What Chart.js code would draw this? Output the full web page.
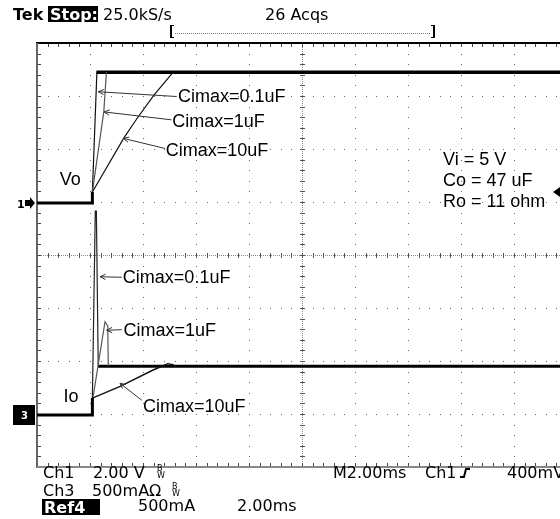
<!DOCTYPE html>
<html>
<head>
<meta charset="utf-8">
<script src="https://cdn.jsdelivr.net/npm/chart.js@4"></script>
<style>
  html, body { margin: 0; padding: 0; background: #fff; overflow: hidden; }
  #wrap { width: 600px; height: 519px; }
</style>
</head>
<body>
<div id="wrap"><canvas id="scope" width="600" height="519"></canvas></div>
<script>

// screen is 10 x 8 divisions, 2.00 ms/div; values below are in divisions
const divsX = 10;
const divsY = 8;

// Vo (Ch1, 2.00 V/div)
const voBase = [[0, 4.98], [1.04, 4.98], [1.045, 5.19]];
const voTop  = [[1.12, 7.45], [10, 7.45]];
const vo01   = [[1.045, 5.19], [1.13, 7.45]];
const vo1    = [[1.045, 5.19], [1.26, 6.70], [1.31, 7.45]];
const vo10   = [[1.045, 5.19], [1.64, 6.21], [1.89, 6.58], [2.21, 7.02], [2.57, 7.45]];

// Io (Ch3 / Ref4, 500 mA/div)
const ioBase = [[0, 0.98], [1.04, 0.98], [1.045, 1.30]];
const ioTop  = [[1.15, 1.90], [10, 1.90]];
const io01   = [[1.045, 1.30], [1.10, 4.83], [1.12, 4.83], [1.155, 1.92]];
const io1    = [[1.06, 1.33], [1.283, 2.74], [1.335, 2.66], [1.345, 1.90]];
const io10   = [[1.045, 1.30], [1.57, 1.52], [2.19, 1.83], [2.38, 1.91], [2.47, 1.95], [2.56, 1.93], [2.62, 1.90]];

const capLabels = ['Cimax=0.1uF', 'Cimax=1uF', 'Cimax=10uF'];
const infoLines = ['Vi = 5 V', 'Co = 47 uF', 'Ro = 11 ohm'];

// leader arrows: tip on trace, tail at text, text anchor (in divisions)
const leaders = [
    { text: capLabels[0], tip: [1.157, 7.08], tail: [2.636, 6.99], at: [2.66, 6.98] },
    { text: capLabels[1], tip: [1.264, 6.70], tail: [2.54, 6.55],  at: [2.55, 6.51] },
    { text: capLabels[2], tip: [1.63, 6.20],  tail: [2.415, 6.01], at: [2.43, 5.96] },
    { text: capLabels[0], tip: [1.19, 3.59],  tail: [1.60, 3.58],  at: [1.62, 3.56] },
    { text: capLabels[1], tip: [1.315, 2.58], tail: [1.60, 2.59],  at: [1.63, 2.57] },
    { text: capLabels[2], tip: [1.566, 1.58], tail: [1.975, 1.26], at: [2.0, 1.14] }
];

const toXY = pts => pts.map(p => ({ x: p[0], y: p[1] }));

function trace( data, color, width ) {
    return {
        data: toXY( data ),
        borderColor: color,
        borderWidth: width,
        pointRadius: 0,
        tension: 0,
        fill: false
    };
}

const MONO = '"DejaVu Sans", sans-serif';
const ARIAL = '"Liberation Sans", Arial, sans-serif';

const scopeScreen = {
    id: 'scopeScreen',

    beforeDraw( chart ) {
        const ctx = chart.ctx;
        ctx.save();
        ctx.fillStyle = '#fff';
        ctx.fillRect( 0, 0, chart.width, chart.height );
        ctx.restore();
    },

    beforeDatasetsDraw( chart ) {
        const { ctx, chartArea: a, scales: { x, y } } = chart;
        ctx.save();

        // dotted major graticule
        ctx.fillStyle = '#6a6a6a';
        for ( let i = 1; i < divsX; i++ ) {
            if ( i === 5 ) continue;
            const px = Math.round( x.getPixelForValue( i ) );
            for ( let j = 0; j <= divsY * 5; j++ ) {
                ctx.fillRect( px, Math.round( y.getPixelForValue( j / 5 ) ), 1, 1 );
            }
        }
        for ( let j = 1; j < divsY; j++ ) {
            if ( j === 4 ) continue;
            const py = Math.round( y.getPixelForValue( j ) );
            for ( let i = 0; i <= divsX * 5; i++ ) {
                ctx.fillRect( Math.round( x.getPixelForValue( i / 5 ) ), py, 1, 1 );
            }
        }

        // centre cross lines with ticks
        const cx = Math.round( x.getPixelForValue( 5 ) );
        const cy = Math.round( y.getPixelForValue( 4 ) );
        ctx.fillStyle = '#8a8a8a';
        for ( let py = a.top; py < a.bottom; py += 2 ) ctx.fillRect( cx, py, 1, 1 );
        for ( let px = a.left; px < a.right; px += 2 ) ctx.fillRect( px, cy, 1, 1 );
        ctx.fillStyle = '#555';
        for ( let j = 0; j <= divsY * 5; j++ ) {
            ctx.fillRect( cx - 2, Math.round( y.getPixelForValue( j / 5 ) ), 5, 1 );
        }
        for ( let i = 0; i <= divsX * 5; i++ ) {
            ctx.fillRect( Math.round( x.getPixelForValue( i / 5 ) ), cy - 2, 1, 5 );
        }

        // frame with ticks
        ctx.fillStyle = '#000';
        ctx.fillRect( a.left - 1, a.top - 1, a.right - a.left + 2, 2 );
        ctx.fillStyle = '#666';
        ctx.fillRect( a.left - 1, a.top, 2, a.bottom - a.top + 1 );
        ctx.fillStyle = '#888';
        ctx.fillRect( a.left, a.bottom - 1, a.right - a.left, 2 );
        ctx.fillStyle = '#444';
        for ( let i = 1; i < divsX * 5; i++ ) {
            const px = Math.round( x.getPixelForValue( i / 5 ) );
            ctx.fillRect( px, a.top + 1, 1, 3 );
            ctx.fillRect( px, a.bottom - 4, 1, 3 );
        }
        for ( let j = 1; j < divsY * 5; j++ ) {
            const py = Math.round( y.getPixelForValue( j / 5 ) );
            ctx.fillRect( a.left + 1, py, 3, 1 );
        }
        ctx.restore();
    },

    afterDatasetsDraw( chart ) {
        const { ctx, scales: { x, y } } = chart;
        const P = d => [ x.getPixelForValue( d[0] ), y.getPixelForValue( d[1] ) ];
        ctx.save();

        // leaders with open arrow heads
        ctx.strokeStyle = '#333';
        ctx.lineWidth = 1;
        ctx.fillStyle = '#000';
        ctx.font = '18px ' + ARIAL;
        ctx.textBaseline = 'middle';
        ctx.textAlign = 'left';
        leaders.forEach( l => {
            const [tx, ty] = P( l.tip );
            const [sx, sy] = P( l.tail );
            ctx.beginPath();
            ctx.moveTo( sx, sy );
            ctx.lineTo( tx, ty );
            const ang = Math.atan2( sy - ty, sx - tx );
            ctx.moveTo( tx + 6 * Math.cos( ang - 0.45 ), ty + 6 * Math.sin( ang - 0.45 ) );
            ctx.lineTo( tx, ty );
            ctx.lineTo( tx + 6 * Math.cos( ang + 0.45 ), ty + 6 * Math.sin( ang + 0.45 ) );
            ctx.stroke();
            const [ax, ay] = P( l.at );
            ctx.fillText( l.text, ax, ay );
        } );

        // trace names and test conditions
        let p = P( [0.43, 5.42] );
        ctx.fillText( 'Vo', p[0], p[1] );
        p = P( [0.50, 1.32] );
        ctx.fillText( 'Io', p[0], p[1] );
        infoLines.forEach( ( t, i ) => {
            const q = P( [7.66, 5.79 - i * 0.395] );
            ctx.fillText( t, q[0], q[1] );
        } );
        ctx.restore();
    },

    afterDraw( chart ) {
        const ctx = chart.ctx;
        ctx.save();
        ctx.textBaseline = 'alphabetic';
        ctx.textAlign = 'left';
        ctx.fillStyle = '#000';

        // header
        ctx.font = 'bold 16px ' + MONO;
        ctx.fillText( 'Tek', 13, 20 );
        ctx.fillRect( 48, 6, 50, 16 );
        ctx.fillStyle = '#fff';
        ctx.fillText( 'Stop:', 50, 20 );
        ctx.fillStyle = '#000';
        ctx.font = '16px ' + MONO;
        ctx.fillText( '25.0kS/s', 103, 20 );
        ctx.fillText( '26 Acqs', 265, 20 );
        ctx.fillRect( 170, 25, 2, 13 );
        ctx.fillRect( 170, 25, 4, 1 );
        ctx.fillRect( 170, 37, 4, 1 );
        ctx.fillRect( 433, 25, 2, 13 );
        ctx.fillRect( 431, 25, 4, 1 );
        ctx.fillRect( 431, 37, 4, 1 );
        ctx.fillStyle = '#777';
        for ( let px = 175; px < 431; px += 2 ) ctx.fillRect( px, 33, 1, 1 );

        // channel markers
        ctx.fillStyle = '#000';
        ctx.font = 'bold 11px ' + MONO;
        ctx.fillText( '1', 17, 208 );
        ctx.beginPath();
        ctx.moveTo( 25, 200 ); ctx.lineTo( 30, 200 ); ctx.lineTo( 30, 197 );
        ctx.lineTo( 35, 203 ); ctx.lineTo( 30, 209 ); ctx.lineTo( 30, 206 );
        ctx.lineTo( 25, 206 ); ctx.closePath();
        ctx.fill();
        ctx.fillRect( 13, 405, 22, 20 );
        ctx.fillStyle = '#fff';
        ctx.font = 'bold 10px ' + MONO;
        ctx.fillText( '3', 21, 419 );
        ctx.fillStyle = '#000';
        ctx.beginPath();
        ctx.moveTo( 553, 192 ); ctx.lineTo( 560, 187 ); ctx.lineTo( 560, 197 );
        ctx.closePath();
        ctx.fill();

        // footer
        ctx.font = '16px ' + MONO;
        ctx.fillText( 'Ch1', 43, 478 );
        ctx.fillText( '2.00 V', 93, 478 );
        ctx.fillText( 'M2.00ms', 333, 478 );
        ctx.fillText( 'Ch1', 425, 478 );
        ctx.fillText( '400mV', 507, 478 );
        ctx.fillText( 'Ch3', 43, 496 );
        ctx.fillText( '500mA\u03a9', 92, 496 );
        ctx.fillText( '500mA', 138, 511 );
        ctx.fillText( '2.00ms', 237, 511 );
        ctx.fillRect( 42, 499, 58, 16 );
        ctx.fillStyle = '#fff';
        ctx.font = 'bold 16px ' + MONO;
        ctx.fillText( 'Ref4', 44, 513 );
        ctx.fillStyle = '#000';
        ctx.font = '8px ' + MONO;
        ctx.fillText( 'B', 157, 471 );
        ctx.fillText( 'W', 157, 478 );
        ctx.fillText( 'B', 172, 489 );
        ctx.fillText( 'W', 172, 496 );

        // trigger slope glyph
        ctx.strokeStyle = '#000';
        ctx.lineWidth = 2;
        ctx.beginPath();
        ctx.moveTo( 460, 477 ); ctx.lineTo( 464, 477 ); ctx.lineTo( 466, 469 ); ctx.lineTo( 470, 469 );
        ctx.stroke();
        ctx.restore();
    }
};

new Chart( document.getElementById( 'scope' ), {
    type: 'line',
    data: {
        datasets: [
            trace( vo10, '#111', 1.2 ),
            trace( vo1, '#555', 1.2 ),
            trace( vo01, '#111', 1.2 ),
            trace( voBase, '#000', 3 ),
            trace( voTop, '#000', 3.5 ),
            trace( io10, '#111', 1.4 ),
            trace( io1, '#555', 1.2 ),
            trace( io01, '#222', 1.2 ),
            trace( ioBase, '#000', 3 ),
            trace( ioTop, '#000', 3 )
        ]
    },
    options: {
        responsive: false,
        animation: false,
        events: [],
        layout: { padding: { left: 37, top: 43, right: 33, bottom: 52 } },
        plugins: { legend: { display: false }, tooltip: { enabled: false } },
        scales: {
            x: { type: 'linear', display: false, min: 0, max: divsX },
            y: { type: 'linear', display: false, min: 0, max: divsY }
        }
    },
    plugins: [ scopeScreen ]
} );
</script>
</body>
</html>
